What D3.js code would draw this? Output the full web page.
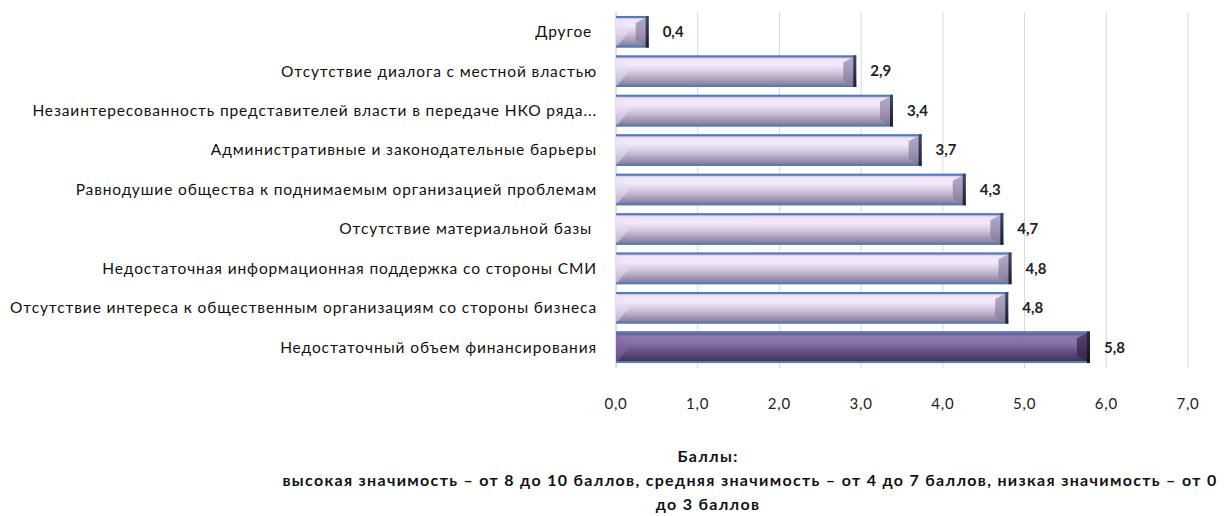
<!DOCTYPE html>
<html><head><meta charset="utf-8">
<script src="https://cdn.jsdelivr.net/npm/d3@7"></script>
<style>
html,body{margin:0;padding:0;background:#fff;}
svg{display:block;}
</style></head>
<body>
<svg id="chart" width="1225" height="516"></svg>
<script>
const categories = [
  "Другое ",
  "Отсутствие диалога с местной властью",
  "Незаинтересованность представителей власти в передаче НКО ряда...",
  "Административные и законодательные барьеры",
  "Равнодушие общества к поднимаемым организацией проблемам",
  "Отсутствие материальной базы ",
  "Недостаточная информационная поддержка со стороны СМИ",
  "Отсутствие интереса к общественным организациям со стороны бизнеса",
  "Недостаточный объем финансирования"
];
const values = [0.4, 2.94, 3.39, 3.74, 4.28, 4.74, 4.84, 4.8, 5.8];
const valueLabels = ["0,4", "2,9", "3,4", "3,7", "4,3", "4,7", "4,8", "4,8", "5,8"];
const highlighted = ["Недостаточный объем финансирования"];
const tickValues = [0, 1, 2, 3, 4, 5, 6, 7];
const tickLabels = ["0,0", "1,0", "2,0", "3,0", "4,0", "5,0", "6,0", "7,0"];
const titleLines = [
  "Баллы:",
  "высокая значимость – от 8 до 10 баллов, средняя значимость – от 4 до 7 баллов, низкая значимость – от 0",
  "до 3 баллов"
];

const svg = d3.select("#chart");
const x = d3.scaleLinear().domain([0, 7]).range([616, 1188]);
const y = d3.scaleBand().domain(categories).range([12, 367]).paddingInner(0.2).paddingOuter(0.1);
const FONT = "Lato, 'Open Sans', sans-serif";

const defs = svg.append("defs");
function grad(id, stops) {
  const g = defs.append("linearGradient").attr("id", id).attr("x1", 0).attr("y1", 0).attr("x2", 0).attr("y2", 1);
  stops.forEach(s => g.append("stop").attr("offset", s[0]).attr("stop-color", s[1]));
}
grad("gLight", [[0, "#a898c0"], [0.12, "#efe4fa"], [0.3, "#f4eafc"], [0.55, "#d2c6de"], [0.8, "#a497b3"], [1, "#7c7290"]]);
grad("gDark", [[0, "#4a3a66"], [0.15, "#8f78ae"], [0.35, "#8a72a8"], [0.6, "#6a5488"], [0.85, "#4c3b66"], [1, "#332646"]]);
grad("gCapL", [[0, "#3c4c6c"], [0.5, "#2a3450"], [1, "#1a2038"]]);
grad("gCapD", [[0, "#2a2440"], [0.5, "#231c36"], [1, "#141020"]]);
grad("gBevL", [[0, "#b8acc8"], [0.5, "#a496b6"], [1, "#7f7392"]]);
grad("gBevD", [[0, "#554470"], [0.5, "#45365e"], [1, "#2e2342"]]);

// gridlines
svg.append("g").selectAll("line").data(tickValues.slice(1)).join("line")
  .attr("x1", d => x(d)).attr("x2", d => x(d))
  .attr("y1", 12).attr("y2", 368)
  .attr("stroke", "#d9d9d9").attr("stroke-width", 1);
// axis line at 0
svg.append("line").attr("x1", x(0)).attr("x2", x(0)).attr("y1", 12).attr("y2", 368)
  .attr("stroke", "#bfbfbf").attr("stroke-width", 1);

// bars
const bars = svg.append("g").selectAll("g").data(categories).join("g");
bars.each(function(c, i) {
  const g = d3.select(this);
  const dark = highlighted.includes(c);
  const x0 = x(0), x1 = x(values[i]);
  const y0 = y(c), h = y.bandwidth(), y1 = y0 + h;
  const bev = Math.min(13, (x1 - x0) / 2.5);
  g.append("rect").attr("x", x0).attr("y", y0).attr("width", x1 - x0).attr("height", h)
    .attr("fill", dark ? "url(#gDark)" : "url(#gLight)");
  g.append("polygon")
    .attr("points", [[x0, y0], [x0 + bev, y0 + h / 2], [x0, y1]].join(" "))
    .attr("fill", dark ? "#7d68a0" : "#e8def4").attr("opacity", 0.55);
  g.append("polygon")
    .attr("points", [[x1, y0], [x1 - bev, y0 + 7], [x1 - bev, y1 - 7], [x1, y1]].join(" "))
    .attr("fill", dark ? "url(#gBevD)" : "url(#gBevL)");
  g.append("line").attr("x1", x0).attr("x2", x1).attr("y1", y0 + 1).attr("y2", y0 + 1)
    .attr("stroke", "#4f7fb8").attr("stroke-width", 2);
  g.append("line").attr("x1", x0).attr("x2", x1).attr("y1", y1 - 1).attr("y2", y1 - 1)
    .attr("stroke", "#4f7fb8").attr("stroke-width", 2);
  g.append("rect").attr("x", x1 - 3).attr("y", y0).attr("width", 3).attr("height", h)
    .attr("fill", dark ? "url(#gCapD)" : "url(#gCapL)");
});

// value labels
svg.append("g").selectAll("text").data(categories).join("text")
  .attr("x", (c, i) => x(values[i]) + 14)
  .attr("y", c => y(c) + y.bandwidth() / 2)
  .attr("dy", "0.35em")
  .attr("font-family", FONT)
  .attr("font-weight", "bold").attr("font-size", 15).attr("fill", "#222")
  .text((c, i) => valueLabels[i]);

// category labels
const catText = svg.append("g").selectAll("text").data(categories).join("text")
  .attr("x", 597)
  .attr("y", c => y(c) + y.bandwidth() / 2)
  .attr("dy", "0.35em")
  .attr("text-anchor", "end")
  .style("white-space", "pre")
  .attr("font-family", FONT)
  .attr("font-size", 15.5).attr("fill", "#111")
  .text(c => c);
(function() {
  const longest = categories[7];
  const node = catText.filter(c => c === longest).node();
  const w = node.getComputedTextLength();
  const ls = (587 - w) / longest.length;
  catText.attr("letter-spacing", ls);
})();

// tick labels
svg.append("g").selectAll("text").data(tickValues).join("text")
  .attr("x", d => x(d)).attr("y", 404).attr("dy", "0.35em")
  .attr("text-anchor", "middle")
  .attr("font-family", FONT)
  .attr("font-size", 15).attr("letter-spacing", 0.8).attr("fill", "#222")
  .text((d, i) => tickLabels[i]);

// axis title
const tt = svg.append("g").selectAll("text").data(titleLines).join("text")
  .attr("x", (d, i) => i === 1 ? 750 : 708)
  .attr("y", (d, i) => 456 + i * 24)
  .attr("dy", "0.35em")
  .attr("text-anchor", "middle")
  .attr("font-family", FONT)
  .attr("font-weight", "bold").attr("font-size", 16).attr("fill", "#111")
  .text(d => d);
(function() {
  const node = tt.filter((d, i) => i === 1).node();
  const w = node.getComputedTextLength();
  const ls = (935 - w) / titleLines[1].length;
  tt.attr("letter-spacing", ls);
})();
</script>
</body></html>
